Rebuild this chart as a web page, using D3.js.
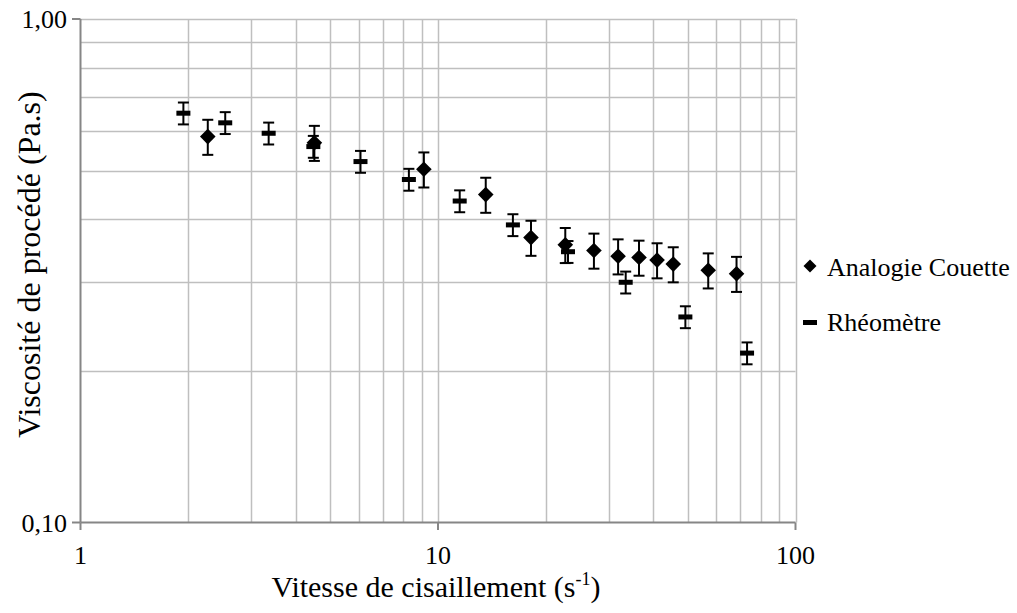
<!DOCTYPE html>
<html>
<head>
<meta charset="utf-8">
<script src="https://cdn.jsdelivr.net/npm/d3@7"></script>
<style>
  html, body { margin: 0; padding: 0; background: #fff; }
  svg { display: block; }
  text { font-family: "Liberation Serif", "Times New Roman", serif; fill: #000; }
</style>
</head>
<body>
<svg id="chart" width="1017" height="613"></svg>
<script>
// ---- Data ----
const shearCouette = [2.27, 4.51, 9.13, 13.6, 18.2, 22.7, 27.3, 31.9, 36.5, 41.0, 45.5, 57.0, 68.4];
const viscCouette  = [0.584, 0.568, 0.503, 0.448, 0.368, 0.356, 0.347, 0.338, 0.336, 0.332, 0.326, 0.317, 0.312];
const shearRheo = [1.94, 2.54, 3.36, 4.48, 6.07, 8.29, 11.5, 16.2, 23.1, 33.5, 49.2, 73.2];
const viscRheo  = [0.650, 0.622, 0.593, 0.558, 0.521, 0.480, 0.435, 0.390, 0.345, 0.300, 0.256, 0.217];
const errCouettePct = 8;   // percentage error bars
const errRheoPct = 5;
const xTicks = [1, 10, 100];
const xTickLabels = ["1", "10", "100"];
const yTicks = [0.1, 1];
const yTickLabels = ["0,10", "1,00"];
const seriesNames = ["Analogie Couette", "Rhéomètre"];
const xTitle = "Vitesse de cisaillement (s";
const xTitleSup = "-1";
const yTitle = "Viscosité de procédé (Pa.s)";

// ---- Layout ----
const svg = d3.select("#chart");
const L = 80.5, R = 795.5, T = 19, B = 522.5;
const x = d3.scaleLog().domain([1, 100]).range([L, R]);
const y = d3.scaleLog().domain([0.1, 1]).range([B, T]);

const gridColor = "#BFBFBF", axisColor = "#868686";

// minor gridlines
const xMinor = [];
[1, 10].forEach(d => { for (let k = 2; k <= 9; k++) xMinor.push(d * k); });
const yMinor = [];
for (let k = 2; k <= 9; k++) yMinor.push(k / 10);

const grid = svg.append("g");
grid.selectAll("line.xg").data(xMinor.concat([10, 100])).enter().append("line")
  .attr("x1", d => Math.round(x(d)) + 0.5).attr("x2", d => Math.round(x(d)) + 0.5)
  .attr("y1", T).attr("y2", B)
  .attr("stroke", gridColor).attr("stroke-width", 1.5);
grid.selectAll("line.yg").data(yMinor.concat([1])).enter().append("line")
  .attr("y1", d => Math.round(y(d)) + 0.5).attr("y2", d => Math.round(y(d)) + 0.5)
  .attr("x1", L).attr("x2", R)
  .attr("stroke", gridColor).attr("stroke-width", 1.5);

// axes
const axG = svg.append("g");
axG.append("line").attr("x1", L).attr("x2", L).attr("y1", T).attr("y2", B)
  .attr("stroke", axisColor).attr("stroke-width", 2);
axG.append("line").attr("x1", L).attr("x2", R).attr("y1", B).attr("y2", B)
  .attr("stroke", axisColor).attr("stroke-width", 2);
// major ticks
axG.selectAll("line.xt").data(xTicks).enter().append("line")
  .attr("x1", d => x(d)).attr("x2", d => x(d)).attr("y1", B).attr("y2", B + 7.5)
  .attr("stroke", axisColor).attr("stroke-width", 2);
axG.selectAll("line.yt").data(yTicks).enter().append("line")
  .attr("y1", d => y(d)).attr("y2", d => y(d)).attr("x1", L - 8.5).attr("x2", L)
  .attr("stroke", axisColor).attr("stroke-width", 2);

// tick labels
axG.selectAll("text.xl").data(xTicks).enter().append("text")
  .attr("x", d => x(d)).attr("y", 564)
  .attr("text-anchor", "middle").attr("font-size", 26)
  .text((d, i) => xTickLabels[i]);
axG.selectAll("text.yl").data(yTicks).enter().append("text")
  .attr("x", 67).attr("y", d => y(d) + 9)
  .attr("text-anchor", "end").attr("font-size", 26)
  .text((d, i) => yTickLabels[i]);

// axis titles
const xt = svg.append("text").attr("x", 436).attr("y", 597)
  .attr("text-anchor", "middle").attr("font-size", 30);
xt.append("tspan").text(xTitle);
xt.append("tspan").attr("font-size", 18).attr("dy", -12).text(xTitleSup);
xt.append("tspan").attr("dy", 12).text(")");

svg.append("text").attr("transform", "translate(40,264.5) rotate(-90)")
  .attr("text-anchor", "middle").attr("font-size", 32).text(yTitle);

// ---- series ----
function errBars(g, xs, ys, pct, capW) {
  const data = xs.map((v, i) => ({ x: v, y: ys[i] }));
  const eb = g.append("g");
  eb.selectAll("line.stem").data(data).enter().append("line")
    .attr("x1", d => x(d.x)).attr("x2", d => x(d.x))
    .attr("y1", d => y(d.y * (1 + pct / 100))).attr("y2", d => y(d.y * (1 - pct / 100)))
    .attr("stroke", "#000").attr("stroke-width", 2);
  [1 + pct / 100, 1 - pct / 100].forEach(f => {
    eb.selectAll(null).data(data).enter().append("line")
      .attr("x1", d => x(d.x) - capW / 2).attr("x2", d => x(d.x) + capW / 2)
      .attr("y1", d => y(d.y * f)).attr("y2", d => y(d.y * f))
      .attr("stroke", "#000").attr("stroke-width", 2);
  });
}

const diamond = s => `M0,${-s}L${s},0L0,${s}L${-s},0Z`;

const gC = svg.append("g");
errBars(gC, shearCouette, viscCouette, errCouettePct, 11);
gC.selectAll("path.dm").data(shearCouette.map((v, i) => [v, viscCouette[i]])).enter().append("path")
  .attr("transform", d => `translate(${x(d[0])},${y(d[1])})`)
  .attr("d", diamond(7.8)).attr("fill", "#000");

const gR = svg.append("g");
errBars(gR, shearRheo, viscRheo, errRheoPct, 11);
gR.selectAll("rect.dash").data(shearRheo.map((v, i) => [v, viscRheo[i]])).enter().append("rect")
  .attr("x", d => x(d[0]) - 7).attr("y", d => y(d[1]) - 2.5)
  .attr("width", 14).attr("height", 5).attr("fill", "#000");

// ---- legend ----
const lg = svg.append("g");
lg.append("path").attr("transform", "translate(810,266)").attr("d", diamond(6.5)).attr("fill", "#000");
lg.append("text").attr("x", 827).attr("y", 276).attr("font-size", 26).text(seriesNames[0]);
lg.append("rect").attr("x", 803).attr("y", 320).attr("width", 14).attr("height", 5).attr("fill", "#000");
lg.append("text").attr("x", 827).attr("y", 331).attr("font-size", 26).text(seriesNames[1]);
</script>
</body>
</html>
